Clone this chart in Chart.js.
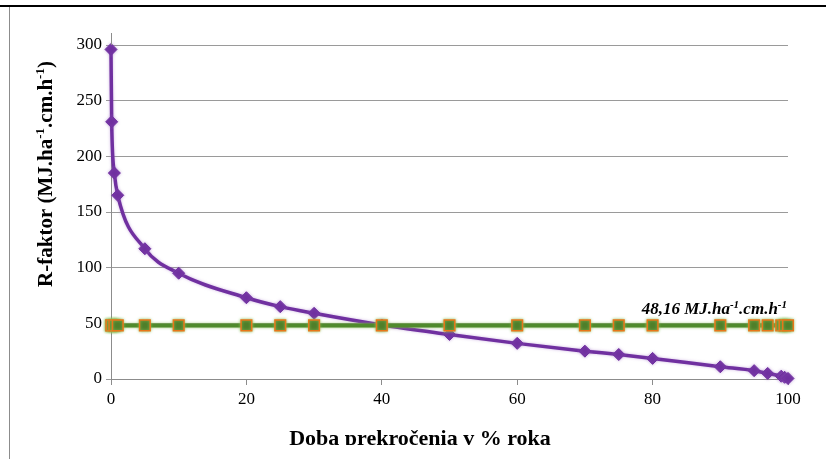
<!DOCTYPE html>
<html>
<head>
<meta charset="utf-8">
<script src="https://cdn.jsdelivr.net/npm/chart.js@4/dist/chart.umd.min.js"></script>
<style>
  html, body { margin: 0; padding: 0; background: #fff; }
  #wrap { width: 826px; height: 459px; position: relative; }
</style>
</head>
<body>
<div id="wrap"><canvas id="chart"></canvas></div>
<script>
// Data
const exceedPct = [0, 0.1, 0.5, 1, 5, 10, 20, 25, 30, 40, 50, 60, 70, 75, 80, 90, 95, 97, 99, 99.5, 100];
const rFactor = [296, 231, 185, 165, 117, 95, 73, 65, 59, 48.5, 40, 32, 25, 22, 18.5, 11, 7.5, 5, 2.5, 1.5, 0.5];
const meanR = 48.16;
const xTicks = [0, 20, 40, 60, 80, 100];
const yTicks = [0, 50, 100, 150, 200, 250, 300];

const serif = "'Liberation Serif', 'Times New Roman', serif";

// text with superscripts: parts = [[text, isSup], ...]
function drawSupText(ctx, parts, x, y, size, style, align) {
    const base = style + ' ' + size + 'px ' + serif;
    const sup = style + ' ' + Math.round(size * 0.62) + 'px ' + serif;
    let total = 0;
    parts.forEach(p => { ctx.font = p[1] ? sup : base; total += ctx.measureText(p[0]).width; });
    let cx = align === 'right' ? x - total : (align === 'center' ? x - total / 2 : x);
    ctx.textBaseline = 'alphabetic';
    ctx.textAlign = 'left';
    parts.forEach(p => {
        ctx.font = p[1] ? sup : base;
        ctx.fillText(p[0], cx, p[1] ? y - size * 0.38 : y);
        cx += ctx.measureText(p[0]).width;
    });
}

// soft glow round the lines, as in the original
const glow = {
    id: 'glow',
    beforeDatasetDraw(chart, args) {
        const ctx = chart.ctx;
        ctx.save();
        ctx.shadowColor = args.index === 0 ? 'rgba(140,190,90,0.9)' : 'rgba(160,110,200,0.5)';
        ctx.shadowBlur = 3;
    },
    afterDatasetDraw(chart) {
        chart.ctx.restore();
    }
};

const extras = {
    id: 'extras',
    afterDraw(chart) {
        const ctx = chart.ctx;
        const xs = chart.scales.x, ys = chart.scales.y;
        ctx.save();
        // frame pieces of the cropped page
        ctx.fillStyle = '#000';
        ctx.fillRect(0, 5, 826, 2);
        ctx.fillStyle = '#8c8c8c';
        ctx.fillRect(9, 7, 1, 452);
        // y axis runs a bit above the top gridline
        ctx.strokeStyle = '#8c8c8c';
        ctx.lineWidth = 1;
        ctx.beginPath();
        ctx.moveTo(Math.round(xs.getPixelForValue(0)) + 0.5, ys.getPixelForValue(300));
        ctx.lineTo(Math.round(xs.getPixelForValue(0)) + 0.5, ys.getPixelForValue(300) - 12);
        ctx.stroke();

        ctx.fillStyle = '#000';
        // label for the mean line
        drawSupText(ctx, [['48,16 MJ.ha', false], ['-1', true], ['.cm.h', false], ['-1', true]],
            xs.getPixelForValue(100) - 1, ys.getPixelForValue(meanR) - 11, 17, 'italic bold', 'right');

        // y title
        ctx.save();
        ctx.translate(52, 174);
        ctx.rotate(-Math.PI / 2);
        drawSupText(ctx, [['R-faktor (MJ.ha', false], ['-1', true], ['.cm.h', false], ['-1', true], [')', false]],
            0, 0, 21, 'bold', 'center');
        ctx.restore();

        // x title, cut off at the bottom edge like the reference
        ctx.save();
        ctx.beginPath();
        ctx.rect(0, 0, 826, 445);
        ctx.clip();
        drawSupText(ctx, [['Doba prekročenia v % roka', false]], 420, 445, 22, 'bold', 'center');
        ctx.restore();
        ctx.restore();
    }
};

new Chart(document.getElementById('chart'), {
    type: 'scatter',
    data: {
        datasets: [
            {
                label: 'priemer',
                data: exceedPct.map(x => ({ x: x, y: meanR })),
                showLine: true,
                clip: false,
                borderColor: '#4f8a2c',
                borderWidth: 4,
                pointStyle: 'rect',
                pointRadius: 7.5,
                pointBackgroundColor: '#4f7f2a',
                pointBorderColor: '#e8761a',
                pointBorderWidth: 1.5
            },
            {
                label: 'R-faktor',
                data: exceedPct.map((x, i) => ({ x: x, y: rFactor[i] })),
                showLine: true,
                clip: false,
                cubicInterpolationMode: 'monotone',
                borderColor: '#7030a0',
                borderWidth: 3.5,
                pointStyle: 'rectRot',
                pointRadius: 6,
                pointBackgroundColor: '#7030a0',
                pointBorderColor: '#7030a0',
                pointBorderWidth: 1
            }
        ]
    },
    options: {
        responsive: true,
        maintainAspectRatio: false,
        animation: false,
        layout: { padding: { left: 0, right: 38, top: 45, bottom: 0 } },
        plugins: { legend: { display: false }, tooltip: { enabled: false } },
        scales: {
            x: {
                type: 'linear',
                min: 0, max: 100,
                afterFit: s => { s.height = 80; },
                afterBuildTicks: s => { s.ticks = xTicks.map(v => ({ value: v })); },
                border: { color: '#8c8c8c' },
                grid: { drawOnChartArea: false, drawTicks: true, tickLength: 6, color: '#8c8c8c' },
                ticks: { color: '#000', padding: 4, maxRotation: 0, font: { family: serif, size: 17 } }
            },
            y: {
                min: 0, max: 300,
                afterFit: s => { s.width = 111; },
                afterBuildTicks: s => { s.ticks = yTicks.map(v => ({ value: v })); },
                border: { color: '#8c8c8c' },
                grid: { color: '#9a9a9a', tickLength: 5 },
                ticks: { color: '#000', padding: 4, font: { family: serif, size: 17 } }
            }
        }
    },
    plugins: [glow, extras]
});
</script>
</body>
</html>
